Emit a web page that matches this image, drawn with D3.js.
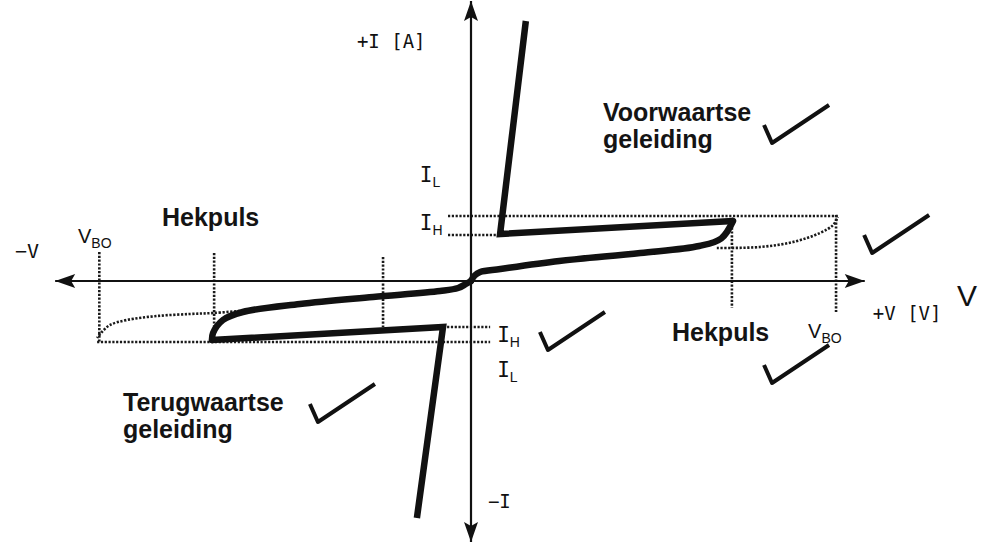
<!DOCTYPE html>
<html>
<head>
<meta charset="utf-8">
<title>Triac karakteristiek</title>
<script src="https://d3js.org/d3.v7.min.js"></script>
<style>
  body { margin: 0; background: #fff; }
  .label { font-family: "Liberation Sans", Arial, sans-serif; font-weight: bold; font-size: 25px; fill: #141414; }
  .scan { font-family: "DejaVu Sans Mono", monospace; fill: #111; }
  .sans { font-family: "Liberation Sans", Arial, sans-serif; fill: #111; }
</style>
</head>
<body>
<script>
// V in volt (V_BO ~ 100), I in arbitrary units
var forwardLow = [[0,0],[1.0,2.2],[2.5,3.6],[8,4.8],[24,8],[46,11.2],[62,14],[68,17],[71.2,24]];
var forwardHigh = [[71.2,24],[7.9,18.8],[14.9,104]];
var reverseLow = [[0,0],[-1.4,-1.2],[-3.5,-2.8],[-8.4,-4],[-26.6,-6.4],[-46.5,-9.2],[-62,-12.4],[-67.4,-15.6],[-70.1,-20.8],[-70.4,-23.6]];
var reverseHigh = [[-70.4,-23.6],[-7.6,-18.4],[-14.7,-94.8]];

// dotted helper lines
var dottedLines = [
  [[-6.25,26],[99.7,26]],
  [[-6.25,18.4],[7.9,18.4]],
  [[70.9,24.4],[70.9,-10.8]],
  [[99.2,26.4],[99.2,-12.4]],
  [[-101,11.6],[-101,-24.4]],
  [[-69.8,11.2],[-69.8,-23.6]],
  [[-23.9,9.6],[-23.9,-18.4]],
  [[-101.6,-24.4],[5.2,-24.4]],
  [[-6.5,-18.4],[5.2,-18.4]]
];
var dottedForward = [[66.8,13.2],[78.5,13.6],[87.5,15.6],[94.8,19.2],[98.4,22.4],[99.7,25.6]];
var dottedReverse = [[-62.8,-12],[-70.1,-12.8],[-76.4,-13.2],[-85.3,-14],[-93.5,-15.6],[-98.1,-17.6],[-100.3,-20.4],[-101.6,-22.8]];

var vAxisEnds = [-113, 107];
var iAxisEnds = [-104.4, 112];

// labels from the scan: [text, subscript, V, I, size, class]
var scanLabels = [
  ["+I [A]", "", -31, 93.2, 19, "scan"],
  ["I", "L", -13.9, 39.6, 21, "scan"],
  ["I", "H", -13.9, 20.4, 21, "scan"],
  ["V", "BO", -106.8, 15.2, 20, "sans"],
  ["\u2212V", "", -123.9, 9.2, 20, "scan"],
  ["+V [V]", "", 109.2, -15.6, 19, "scan"],
  ["V", "BO", 91.6, -22.8, 20, "sans"],
  ["I", "H", 7.1, -24.4, 21, "scan"],
  ["I", "L", 7.1, -38.4, 21, "scan"],
  ["\u2212I", "", 4.6, -90.8, 19, "scan"]
];
var checkMarks = [[81.8,55.2],[109,11.2],[20.9,-27.6],[81.8,-40.8],[-41.6,-56.4]];

var width = 982, height = 555;

var svg = d3.select("body").append("svg")
    .attr("width", width)
    .attr("height", height);

var x = d3.scaleLinear().domain([-100, 100]).range([103, 839]);
var y = d3.scaleLinear().domain([-100, 100]).range([531, 31]);

var line = d3.line().x(function(d) { return x(d[0]); }).y(function(d) { return y(d[1]); });
var smooth = d3.line().curve(d3.curveCatmullRom).x(function(d) { return x(d[0]); }).y(function(d) { return y(d[1]); });

// dotted lines
var dots = svg.append("g")
    .attr("fill", "none")
    .attr("stroke", "#1a1a1a")
    .attr("stroke-width", 2.6)
    .attr("stroke-dasharray", "2.2,1.6");

dots.selectAll("path.l")
  .data(dottedLines)
  .enter().append("path")
    .attr("class", "l")
    .attr("d", line);

dots.selectAll("path.c")
  .data([dottedForward, dottedReverse])
  .enter().append("path")
    .attr("class", "c")
    .attr("d", smooth);

// axes
var axes = svg.append("g").attr("stroke", "#111").attr("stroke-width", 2.2);
axes.append("line")
    .attr("x1", x(vAxisEnds[0])).attr("x2", x(vAxisEnds[1]))
    .attr("y1", y(0)).attr("y2", y(0));
axes.append("line")
    .attr("x1", x(0)).attr("x2", x(0))
    .attr("y1", y(iAxisEnds[0])).attr("y2", y(iAxisEnds[1]));

var heads = [
  [x(vAxisEnds[0]), y(0), 180],
  [x(vAxisEnds[1]), y(0), 0],
  [x(0), y(iAxisEnds[1]), -90],
  [x(0), y(iAxisEnds[0]), 90]
];
svg.append("g").selectAll("path")
  .data(heads)
  .enter().append("path")
    .attr("d", "M0,0 L-20,-7 L-16,0 L-20,7 Z")
    .attr("fill", "#111")
    .attr("transform", function(d) { return "translate(" + d[0] + "," + d[1] + ") rotate(" + d[2] + ")"; });

// characteristic
var curve = svg.append("g")
    .attr("fill", "none")
    .attr("stroke", "#111")
    .attr("stroke-width", 6.5)
    .attr("stroke-linejoin", "round")
    .attr("stroke-linecap", "round");

curve.selectAll("path.s")
  .data([forwardLow, reverseLow])
  .enter().append("path")
    .attr("class", "s")
    .attr("d", smooth);

curve.selectAll("path.k")
  .data([forwardHigh, reverseHigh])
  .enter().append("path")
    .attr("class", "k")
    .attr("stroke-linejoin", "miter")
    .attr("stroke-linecap", "butt")
    .attr("d", line);

// scan labels
var sl = svg.append("g").selectAll("text")
  .data(scanLabels)
  .enter().append("text")
    .attr("class", function(d) { return d[5]; })
    .attr("x", function(d) { return x(d[2]); })
    .attr("y", function(d) { return y(d[3]); })
    .attr("font-size", function(d) { return d[4]; });
sl.append("tspan").text(function(d) { return d[0]; });
sl.filter(function(d) { return d[1]; })
  .append("tspan")
    .attr("dy", 5)
    .attr("font-size", 14)
    .attr("font-family", "Liberation Sans, Arial, sans-serif")
    .text(function(d) { return d[1]; });

// check marks
svg.append("g")
    .attr("fill", "none")
    .attr("stroke", "#111")
    .attr("stroke-width", 4)
    .attr("stroke-linejoin", "round")
  .selectAll("path")
  .data(checkMarks)
  .enter().append("path")
    .attr("d", "M-8,-18 L0,0 L57,-38")
    .attr("transform", function(d) { return "translate(" + x(d[0]) + "," + y(d[1]) + ")"; });

// overlay labels
var notes = [
  {lines: ["Hekpuls"], px: 162, py: 226},
  {lines: ["Hekpuls"], px: 672, py: 341},
  {lines: ["Voorwaartse", "geleiding"], px: 603, py: 121},
  {lines: ["Terugwaartse", "geleiding"], px: 123, py: 411}
];
var nt = svg.append("g").selectAll("text")
  .data(notes)
  .enter().append("text")
    .attr("class", "label")
    .attr("x", function(d) { return d.px; })
    .attr("y", function(d) { return d.py; });
nt.selectAll("tspan")
  .data(function(d) { return d.lines.map(function(t) { return {t: t, px: d.px}; }); })
  .enter().append("tspan")
    .attr("x", function(d) { return d.px; })
    .attr("dy", function(d, i) { return i ? 27 : 0; })
    .text(function(d) { return d.t; });

svg.append("text")
    .attr("class", "sans")
    .attr("x", 957)
    .attr("y", 306)
    .attr("font-size", 30)
    .text("V");
</script>
</body>
</html>
